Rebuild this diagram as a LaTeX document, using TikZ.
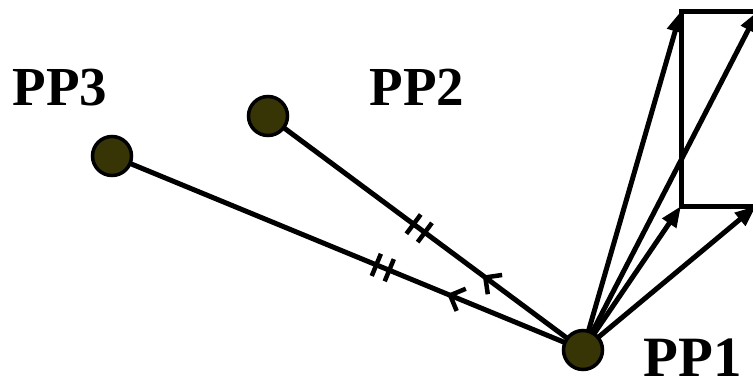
\documentclass[tikz,border=0pt]{standalone}
\usepackage{fontspec}
\setmainfont{Liberation Serif}
\usetikzlibrary{arrows.meta,decorations.markings}
\pgfdeclarelayer{bg}
\pgfsetlayers{bg,main}
\definecolor{dotfill}{RGB}{55,52,5}
\newcommand\tickpairmark{\draw[line width=4.5pt] (-7pt,-12pt) -- (-7pt,12pt) (7pt,-12pt) -- (7pt,12pt);}
\newcommand\chevmark{\draw[line width=4.5pt] (12pt,12pt) -- (0pt,0pt) -- (12pt,-12pt);}
\tikzset{
  ptdot/.style={circle, draw=black, line width=3.5pt, fill=dotfill, minimum size=39pt, inner sep=0pt},
  lbl/.style={font=\bfseries\fontsize{55}{60}\selectfont, anchor=base, inner sep=0pt},
  biglbl/.style={font=\bfseries\fontsize{57}{62}\selectfont, anchor=base, inner sep=0pt},
  seg/.style={line width=5pt},
  vec/.style={line width=5pt, -{Triangle[length=21pt,width=16pt]}},
  rectline/.style={line width=5pt, line join=miter},
}
\begin{document}
\begin{tikzpicture}[x=1pt,y=-1pt]
\useasboundingbox (0,0) rectangle (753,384);
\clip (0,0) rectangle (753,384);
\node[ptdot] (pp1) at (583,350) {};
\node[ptdot] (pp2) at (268,116) {};
\node[ptdot] (pp3) at (112,156) {};
\node[lbl] (l3) at (60,105) {PP3};
\node[lbl] (l2) at (417,105) {PP2};
\node[biglbl] (l1) at (693,376) {PP1};
\coordinate (ra) at (681,11);
\coordinate (rb) at (758,11);
\coordinate (rc) at (681,206);
\coordinate (rd) at (756,206);
\begin{pgfonlayer}{bg}
\draw[seg, postaction={decorate}, decoration={markings,
  mark=at position 0.48 with {\tickpairmark},
  mark=at position 0.69 with {\chevmark}}] (pp2.center) -- (pp1.center);
\draw[seg, postaction={decorate}, decoration={markings,
  mark=at position 0.575 with {\tickpairmark},
  mark=at position 0.718 with {\chevmark}}] (pp3.center) -- (pp1.center);
\draw[rectline] (rb) -- (ra) -- (rc) -- (rd);
\draw[vec] (pp1.center) -- (ra);
\draw[vec] (pp1.center) -- (rb);
\draw[vec] (pp1.center) -- (rc);
\draw[vec] (pp1.center) -- (rd);
\end{pgfonlayer}
\end{tikzpicture}
\end{document}
